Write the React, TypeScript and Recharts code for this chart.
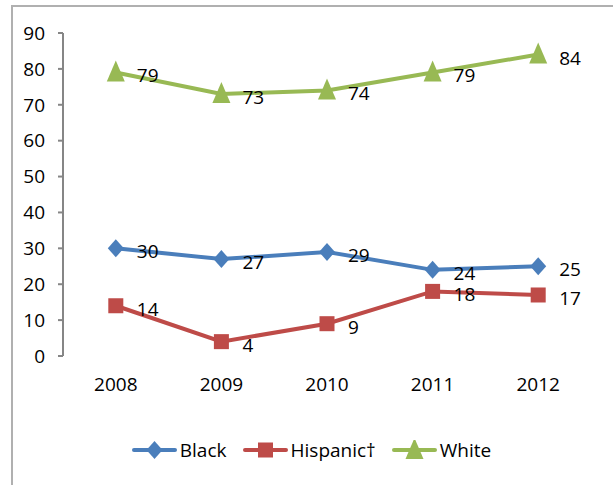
import React from 'react';
import { LineChart, Line, XAxis, YAxis, LabelList } from 'recharts';

// categories and series values
const YEARS = ['2008', '2009', '2010', '2011', '2012'];
const BLACK = [30, 27, 29, 24, 25];
const HISPANIC = [14, 4, 9, 18, 17];
const WHITE = [79, 73, 74, 79, 84];
const Y_TICKS = [0, 10, 20, 30, 40, 50, 60, 70, 80, 90];

const FONT = "'Open Sans', sans-serif";
const AXIS = '#868686';

const SERIES = [
  { key: 'black', name: 'Black', color: '#4a7ebb', shape: 'diamond' },
  { key: 'hispanic', name: 'Hispanic\u2020', color: '#be4b48', shape: 'square' },
  { key: 'white', name: 'White', color: '#98b954', shape: 'triangle' },
];

const data = YEARS.map((year, i) => ({
  year,
  idx: i + 0.5,
  black: BLACK[i],
  hispanic: HISPANIC[i],
  white: WHITE[i],
}));

// tick positions at the category edges (Excel puts them between categories)
const EDGE_TICKS = YEARS.map((_, i) => i).concat(YEARS.length);

const Marker = ({ cx, cy, shape, color }: any) => {
  if (cx == null || cy == null) return null;
  if (shape === 'diamond') {
    return <path d={`M${cx},${cy - 9} L${cx + 8},${cy} L${cx},${cy + 9} L${cx - 8},${cy} Z`} fill={color} />;
  }
  if (shape === 'square') {
    return <rect x={cx - 7.5} y={cy - 7.5} width={15} height={15} fill={color} />;
  }
  return <path d={`M${cx},${cy - 12} L${cx + 9},${cy + 9} L${cx - 9},${cy + 9} Z`} fill={color} />;
};

const ValueLabel = ({ x, y, value }: any) => (
  <text x={x + 21} y={y + 3} dominantBaseline="central" fontSize={19} fontFamily={FONT} fill="#000">
    {value}
  </text>
);

const LegendIcon = ({ shape, color }: any) => (
  <svg width={45} height={20} style={{ display: 'block' }}>
    <line x1={2} y1={10} x2={43} y2={10} stroke={color} strokeWidth={4} strokeLinecap="round" />
    <Marker cx={22.5} cy={10} shape={shape} color={color} />
  </svg>
);

const App: React.FC = () => {
  return (
    <div style={{ position: 'fixed', left: 0, top: 0, width: 613, height: 485, overflow: 'hidden', background: '#fff' }}>
      <div style={{ position: 'absolute', left: 11, top: 5, width: 700, height: 600, border: '2px solid #b0b0b0' }} />
      <div style={{ position: 'absolute', left: 0, top: 0 }}>
        <LineChart width={613} height={485} data={data} margin={{ top: 33, right: 22, left: 0, bottom: 99 }}>
          <XAxis
            xAxisId="edges"
            type="number"
            dataKey="idx"
            domain={[0, YEARS.length]}
            ticks={EDGE_TICKS}
            tick={false}
            height={0}
            axisLine={{ stroke: AXIS, strokeWidth: 2 }}
            tickLine={{ stroke: AXIS, strokeWidth: 2 }}
            tickSize={6}
          />
          <XAxis
            dataKey="year"
            height={30}
            axisLine={false}
            tickLine={false}
            tickSize={6}
            tickMargin={16}
            padding={{ left: 52.8, right: 52.8 }}
            tick={{ fill: '#000', fontSize: 19, fontFamily: FONT }}
          />
          <YAxis
            width={63}
            domain={[0, 90]}
            ticks={Y_TICKS}
            interval={0}
            axisLine={{ stroke: AXIS, strokeWidth: 2 }}
            tickLine={{ stroke: AXIS, strokeWidth: 2 }}
            tickSize={5}
            tickMargin={13}
            tick={{ fill: '#000', fontSize: 19, fontFamily: FONT }}
          />
          {SERIES.map((s) => (
            <Line
              key={s.key}
              dataKey={s.key}
              name={s.name}
              stroke={s.color}
              strokeWidth={4}
              dot={(p: any) => <Marker key={`${s.key}-${p.index}`} cx={p.cx} cy={p.cy} shape={s.shape} color={s.color} />}
              activeDot={false}
              isAnimationActive={false}
            >
              <LabelList dataKey={s.key} content={ValueLabel} />
            </Line>
          ))}
        </LineChart>
      </div>
      <div
        style={{
          position: 'absolute',
          left: 0,
          top: 437,
          width: 613,
          display: 'flex',
          justifyContent: 'center',
          alignItems: 'center',
          fontFamily: FONT,
          fontSize: 19,
          color: '#000',
          paddingLeft: 26,
          boxSizing: 'border-box',
        }}
      >
        {SERIES.map((s) => (
          <div key={s.key} style={{ display: 'flex', alignItems: 'center', marginRight: 16 }}>
            <LegendIcon shape={s.shape} color={s.color} />
            <span style={{ marginLeft: 3 }}>{s.name}</span>
          </div>
        ))}
      </div>
    </div>
  );
};

export default App;
